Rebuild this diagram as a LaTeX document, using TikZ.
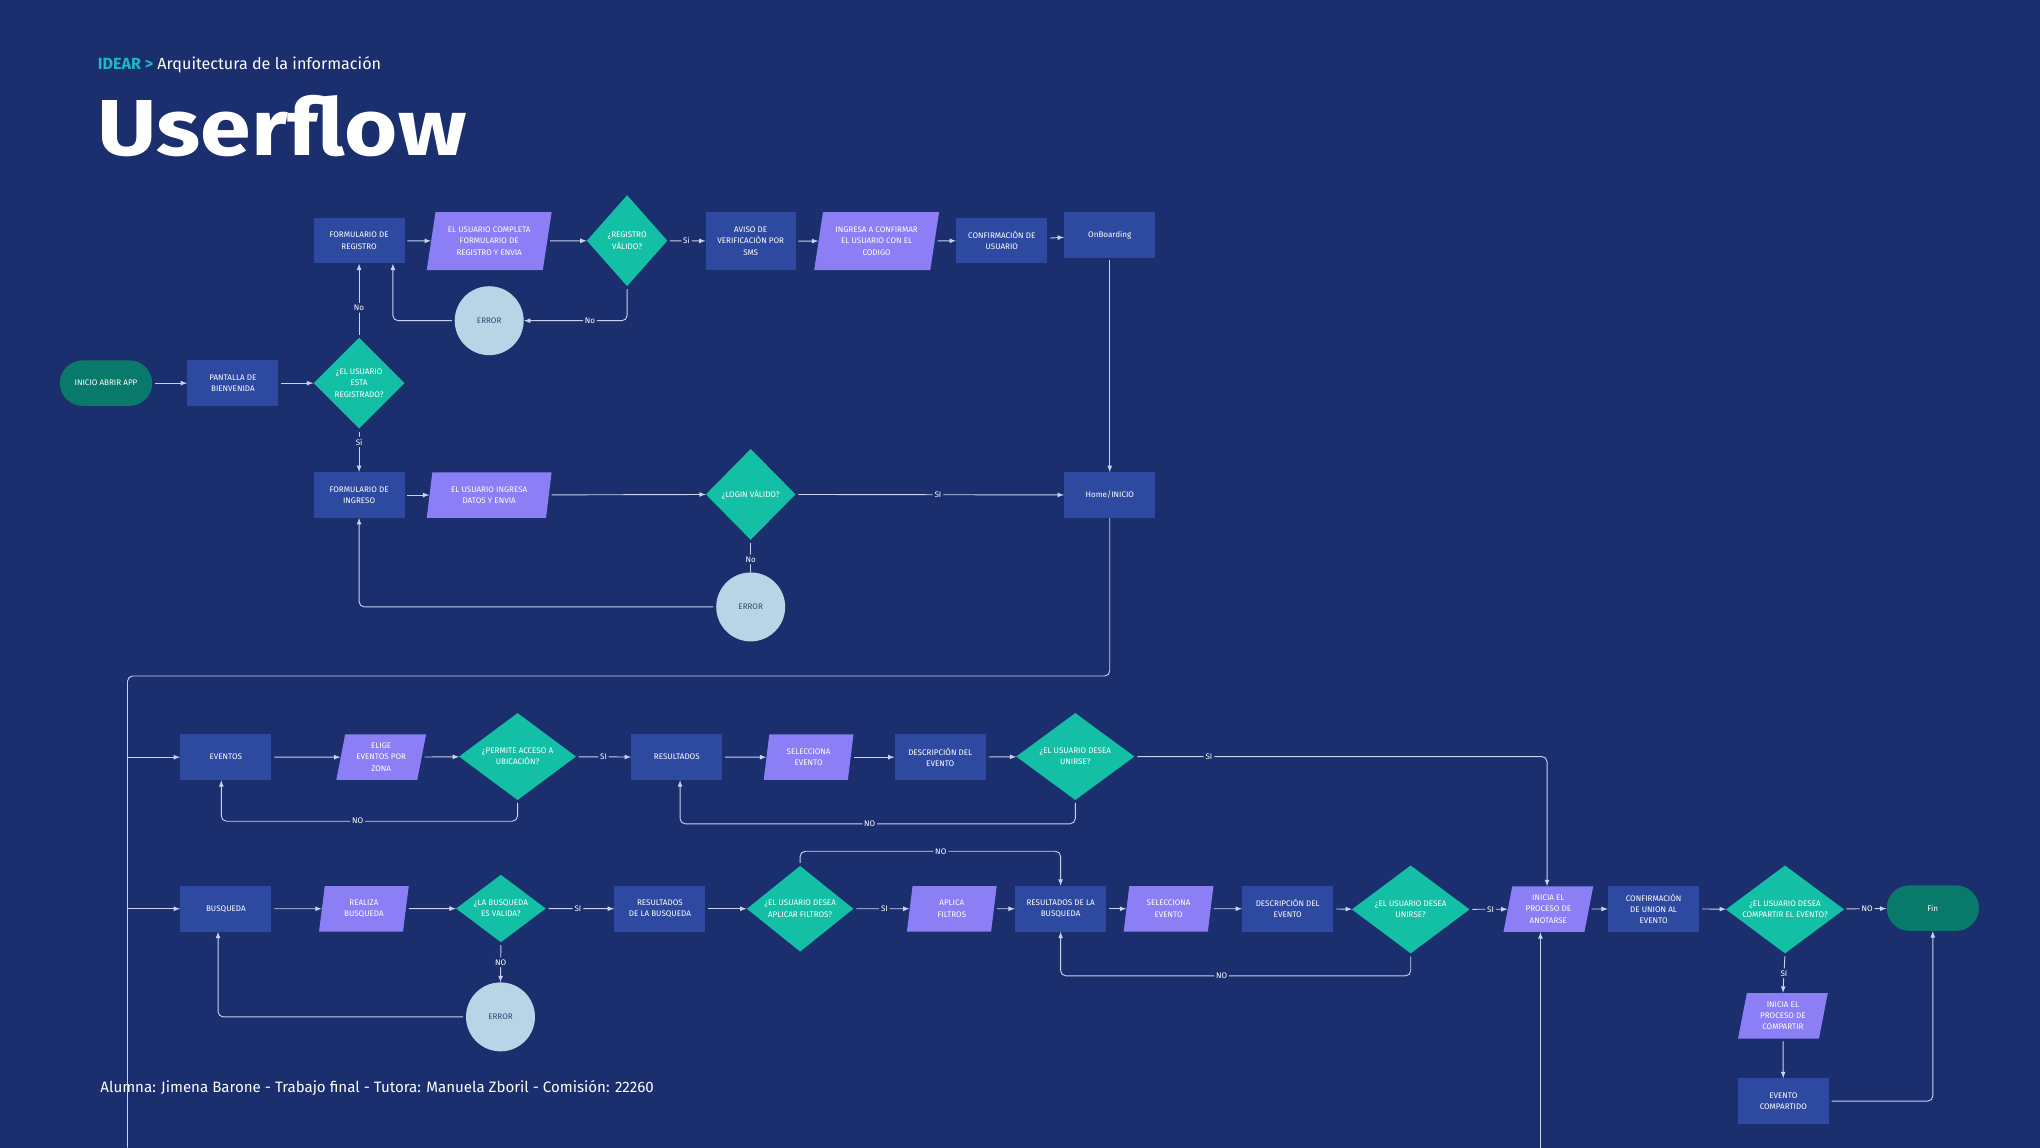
\documentclass[tikz,border=0pt]{standalone}
\usepackage{fontspec}
\setmainfont{Fira Sans}
\usetikzlibrary{shapes.geometric,arrows}

\definecolor{fondo}{HTML}{1B2E6D}
\definecolor{caja}{HTML}{2E4AA0}
\definecolor{lila}{HTML}{8C7EF5}
\definecolor{verdeagua}{HTML}{13C0A6}
\definecolor{celeste}{HTML}{B8D5E8}
\definecolor{verdeosc}{HTML}{08796A}
\definecolor{linea}{HTML}{CAD3F2}
\definecolor{turquesa}{HTML}{1CB8C4}
\definecolor{textoerr}{HTML}{34466E}

\begin{document}
\begin{tikzpicture}[x=1pt,y=-1pt,
    every node/.style={text=white,align=center,font=\fontsize{6.2}{8.6}\selectfont},
    proceso/.style={fill=caja,minimum width=70,minimum height=35,inner sep=1pt},
    entrada/.style={trapezium,trapezium left angle=74,trapezium right angle=106,
      trapezium stretches body,fill=lila,minimum width=69,minimum height=35,inner sep=1pt},
    decision/.style={diamond,fill=verdeagua,inner sep=0pt,minimum width=70,minimum height=70},
    falla/.style={circle,fill=celeste,text=textoerr,minimum size=53,inner sep=0pt},
    terminal/.style={fill=verdeosc,rounded corners=17.5,minimum width=71,minimum height=35},
    flujo/.style={draw=linea,line width=0.7pt,-latex,rounded corners=4,shorten <=2pt},
    rotulo/.style={fill=fondo,inner sep=1.5pt,text=white},
    texto/.style={anchor=base west,inner sep=0pt,align=left}]

  % Fondo
  \useasboundingbox (0,0) rectangle (1568,882);
  \fill[fondo] (0,0) rectangle (1568,882);

  % Encabezado
  \node[texto,font=\fontsize{12.4}{14}\selectfont] (seccion) at (75,53.3)
    {\textcolor{turquesa}{\bfseries IDEAR >}\ Arquitectura de la información};
  \node[texto,font=\fontsize{61}{61}\selectfont\bfseries] (titulo) at (75,119.2)
    {\scalebox{1.15}[1]{Userflow}};
  \node[texto,font=\fontsize{11.6}{13}\selectfont] (pie) at (77,839.5)
    {Alumna: Jimena Barone - Trabajo final - Tutora: Manuela Zboril - Comisión: 22260};

  % Registro
  \node[proceso] (formReg) at (276,185) {FORMULARIO DE\\REGISTRO};
  \node[entrada,minimum width=96,minimum height=44.6] (completa) at (376,185.3)
    {EL USUARIO COMPLETA\\FORMULARIO DE\\REGISTRO  Y ENVIA};
  \node[decision,minimum width=62] (regValido) at (482,185) {¿REGISTRO\\VÁLIDO?};
  \node[proceso,minimum width=69,minimum height=44.6] (aviso) at (577,185.3)
    {AVISO DE\\VERIFICACIÓN POR\\SMS};
  \node[entrada,minimum width=96,minimum height=44.6] (ingresaCod) at (673.8,185.3)
    {INGRESA A CONFIRMAR\\EL  USUARIO CON EL\\CODIGO};
  \node[proceso,minimum height=34.5] (confUsuario) at (770,185) {CONFIRMACIÓN DE\\USUARIO};
  \node[proceso] (onboarding) at (853,180.5) {OnBoarding};
  \node[falla] (error1) at (376,246.5) {ERROR};

  % Inicio
  \node[terminal] (inicio) at (81.5,294.5) {INICIO ABRIR APP};
  \node[proceso] (bienvenida) at (179,294.5) {PANTALLA DE\\BIENVENIDA};
  \node[decision] (registrado) at (276,294.5) {¿EL USUARIO\\ESTA\\REGISTRADO?};

  % Ingreso
  \node[proceso] (formIng) at (276,380.5) {FORMULARIO DE\\INGRESO};
  \node[entrada,minimum width=96] (ingresaDatos) at (376,380.5) {EL USUARIO INGRESA\\DATOS Y ENVIA};
  \node[decision,minimum width=69] (login) at (577,380) {¿LOGIN VÁLIDO?};
  \node[proceso] (home) at (853,380.5) {Home/INICIO};
  \node[falla] (error2) at (577,466.5) {ERROR};

  % Eventos
  \node[proceso] (eventos) at (173.6,582) {EVENTOS};
  \node[entrada] (elige) at (293,582) {ELIGE\\EVENTOS POR\\ZONA};
  \node[decision,aspect=1.4,minimum width=90,minimum height=67] (permite) at (397.8,581.5)
    {¿PERMITE ACCESO A\\UBICACIÓN?};
  \node[proceso] (resultados) at (520.2,582) {RESULTADOS};
  \node[entrada] (selecciona1) at (621.5,582) {SELECCIONA\\EVENTO};
  \node[proceso] (descripcion1) at (722.7,582) {DESCRIPCIÓN DEL\\EVENTO};
  \node[decision,aspect=1.4,minimum width=91,minimum height=67] (unirse1) at (826.5,581.5)
    {¿EL USUARIO DESEA\\UNIRSE?};

  % Busqueda
  \node[proceso] (busqueda) at (173.6,698.5) {BUSQUEDA};
  \node[entrada] (realiza) at (279.7,698.5) {REALIZA\\BUSQUEDA};
  \node[decision,aspect=1.33,minimum width=69,minimum height=52] (valida) at (385,698.3)
    {¿LA BUSQUEDA\\ES VALIDA?};
  \node[proceso] (resBusq1) at (507.2,698.5) {RESULTADOS\\DE LA BUSQUEDA};
  \node[decision,aspect=1.3,minimum width=82,minimum height=66] (filtros) at (615,698.5)
    {¿EL USUARIO DESEA\\APLICAR FILTROS?};
  \node[entrada] (aplica) at (731.6,698.5) {APLICA\\FILTROS};
  \node[proceso] (resBusq2) at (815.2,698.5) {RESULTADOS DE LA\\BUSQUEDA};
  \node[entrada] (selecciona2) at (898.2,698.5) {SELECCIONA\\EVENTO};
  \node[proceso] (descripcion2) at (989.8,698.5) {DESCRIPCIÓN DEL\\EVENTO};
  \node[decision,aspect=1.4,minimum width=90.6,minimum height=67.7] (unirse2) at (1084.3,699)
    {¿EL USUARIO DESEA\\UNIRSE?};
  \node[entrada] (anotarse) at (1190.1,698.8) {INICIA EL\\PROCESO DE\\ANOTARSE};
  \node[proceso] (confUnion) at (1271,698.5) {CONFIRMACIÓN\\DE UNION AL\\EVENTO};
  \node[decision,aspect=1.4,minimum width=91,minimum height=67.7] (compartir) at (1372,699)
    {¿EL USUARIO DESEA\\COMPARTIR EL EVENTO?};
  \node[terminal] (fin) at (1485.6,698) {Fin};
  \node[entrada] (compartirProc) at (1370.4,780.8) {INICIA EL\\PROCESO DE\\COMPARTIR};
  \node[proceso] (compartido) at (1370.7,846.4) {EVENTO\\COMPARTIDO};
  \node[falla] (error3) at (384.7,781.6) {ERROR};

  % Conectores
  \coordinate (bajada) at (98,519.6);
  \coordinate (finIzq) at (98,882);
  \coordinate (subida) at (1184,882);

  \draw[flujo] (inicio) -- (bienvenida);
  \draw[flujo] (bienvenida) -- (registrado);
  \draw[flujo] (registrado.north) -- node[rotulo,pos=0.4]{No} (formReg.south);
  \draw[flujo] (registrado.south) -- node[rotulo,pos=0.3]{Sí} (formIng.north);
  \draw[flujo] (formReg) -- (completa);
  \draw[flujo] (completa) -- (regValido);
  \draw[flujo] (regValido) -- node[rotulo,pos=0.5]{Si} (aviso);
  \draw[flujo] (aviso) -- (ingresaCod);
  \draw[flujo] (ingresaCod) -- (confUsuario);
  \draw[flujo] (confUsuario) -- (onboarding);
  \draw[flujo] (regValido.south) |- node[rotulo,pos=0.68]{No} (error1.east);
  \draw[flujo] (error1.west) -| ([xshift=26]formReg.south);
  \draw[flujo] (onboarding) -- (home);

  \draw[flujo] (formIng) -- (ingresaDatos);
  \draw[flujo] (ingresaDatos) -- (login);
  \draw[flujo] (login) -- node[rotulo,pos=0.53]{SI} (home);
  \draw[flujo,-] (login.south) -- node[rotulo,pos=0.6]{No} (error2.north);
  \draw[flujo] (error2.west) -| (formIng.south);

  \draw[flujo,-,shorten <=0pt] (home.south) |- (bajada) -- (finIzq);
  \draw[flujo,shorten <=0pt] (bajada |- eventos.west) -- (eventos.west);
  \draw[flujo,shorten <=0pt] (bajada |- busqueda.west) -- (busqueda.west);

  \draw[flujo] (eventos) -- (elige);
  \draw[flujo] (elige) -- (permite);
  \draw[flujo] (permite) -- node[rotulo]{SI} (resultados);
  \draw[flujo] (resultados) -- (selecciona1);
  \draw[flujo] (selecciona1) -- (descripcion1);
  \draw[flujo] (descripcion1) -- (unirse1);
  \draw[flujo] (unirse1.east) -| node[rotulo,pos=0.09]{SI} ([xshift=-1]anotarse.north);
  \draw[flujo] (permite.south) -- ++(0,16) -| node[rotulo,pos=0.27]{NO} ([xshift=-3.5]eventos.south);
  \draw[flujo] (unirse1.south) -- ++(0,18) -| node[rotulo,pos=0.26]{NO} ([xshift=2.5]resultados.south);

  \draw[flujo] (busqueda) -- (realiza);
  \draw[flujo] (realiza) -- (valida);
  \draw[flujo] (valida) -- node[rotulo,pos=0.47]{SI} (resBusq1);
  \draw[flujo] (valida.south) -- node[rotulo]{NO} (error3.north);
  \draw[flujo] (error3.west) -| ([xshift=-6]busqueda.south);
  \draw[flujo] (resBusq1) -- (filtros);
  \draw[flujo] (filtros) -- node[rotulo,pos=0.55]{SI} (aplica);
  \draw[flujo] (filtros.north) -- ++(0,-11) -| node[rotulo,pos=0.27]{NO} (resBusq2.north);
  \draw[flujo] (aplica) -- (resBusq2);
  \draw[flujo] (resBusq2) -- (selecciona2);
  \draw[flujo] (selecciona2) -- (descripcion2);
  \draw[flujo] (descripcion2) -- (unirse2);
  \draw[flujo] (unirse2.south) -- ++(0,17) -| node[rotulo,pos=0.27]{NO} (resBusq2.south);
  \draw[flujo] (unirse2) -- node[rotulo,pos=0.55]{SI} (anotarse);
  \draw[flujo,shorten <=0pt] (subida) -- (subida |- anotarse.south);
  \draw[flujo] (anotarse) -- (confUnion);
  \draw[flujo] (confUnion) -- (compartir);
  \draw[flujo] (compartir) -- node[rotulo,pos=0.55]{NO} (fin);
  \draw[flujo] (compartir.south) -- node[rotulo]{SI} (compartirProc.north);
  \draw[flujo] (compartirProc) -- (compartido);
  \draw[flujo] (compartido.east) -| (fin.south);
\end{tikzpicture}
\end{document}
